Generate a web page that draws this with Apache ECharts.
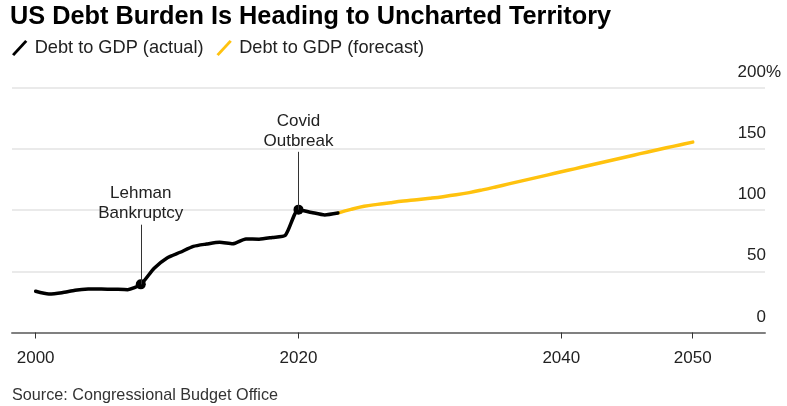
<!DOCTYPE html>
<html>
<head>
<meta charset="utf-8">
<script src="https://cdn.jsdelivr.net/npm/echarts@6/dist/echarts.min.js"></script>
<style>
html,body{margin:0;padding:0;background:#fff;}
#chart{width:787px;height:406px;}
</style>
</head>
<body>
<div id="chart"></div>
<script>
// ---- data ----
const actualYears = [2000,2001,2002,2003,2004,2005,2006,2007,2008,2009,2010,2011,2012,2013,2014,2015,2016,2017,2018,2019,2020,2021,2022,2023];
const actualValues = [33.7,31.5,32.5,34.5,35.5,35.6,35.3,35.0,39.3,52.3,60.9,65.5,70.3,72.2,73.7,72.5,76.4,76.2,77.6,79.4,100.3,98.0,96.0,97.5];
const forecastYears = [2023,2024,2025,2026,2027,2028,2029,2030,2031,2032,2033,2034,2035,2036,2037,2038,2039,2040,2041,2042,2043,2044,2045,2046,2047,2048,2049,2050];
const forecastValues = [97.5,100.5,103,104.6,106,107.3,108.4,109.6,110.9,112.4,114.2,116.4,118.8,121.3,123.8,126.2,128.7,131.2,133.6,136.1,138.6,141,143.5,146,148.4,150.8,153.1,155.4];
const xTickLabels = [2000,2020,2040,2050];
const yTickLabels = [0,50,100,150,200];
const eventNames = ['Lehman\nBankruptcy','Covid\nOutbreak'];
const eventYears = [2008,2020];
const eventValues = [39.3,100.3];
const seriesNames = ['Debt to GDP (actual)','Debt to GDP (forecast)'];
const titleText = 'US Debt Burden Is Heading to Uncharted Territory';
const sourceText = 'Source: Congressional Budget Office';

// ---- chart ----
const FONT = '"Liberation Sans", Arial, Helvetica, sans-serif';
const BLACK = '#000000';
const YELLOW = '#ffc20e';
const leaderEnds = [88, 147.5];

const zip = (xs, ys) => xs.map((x, i) => [x, ys[i]]);
const iconPath = 'path://M0,13 L12,0 L14,1.6 L2,14.6 Z';

const chart = echarts.init(document.getElementById('chart'));
chart.setOption({
  animation: false,
  backgroundColor: '#ffffff',
  textStyle: { fontFamily: FONT },
  title: [
    { text: titleText, left: 10, top: 5, padding: 0, textStyle: { fontFamily: FONT, fontSize: 25.3, fontWeight: 'bold', color: '#000' } },
    { text: sourceText, left: 12, top: 388, padding: 0, textStyle: { fontFamily: FONT, fontSize: 16.2, fontWeight: 'normal', color: '#333' } }
  ],
  legend: {
    data: seriesNames.map((n, i) => ({ name: n, icon: iconPath, itemStyle: { color: i === 0 ? BLACK : YELLOW } })),
    left: 12, top: 39, padding: 0,
    itemWidth: 16, itemHeight: 16, itemGap: 13,
    textStyle: { fontFamily: FONT, fontSize: 18.2, color: '#222', padding: [0, 0, 0, 2] }
  },
  grid: { left: 12, right: 22, top: 87.5, bottom: 73.5, containLabel: false, outerBoundsMode: 'none' },
  xAxis: {
    type: 'value',
    min: 1998.2, max: 2055.5,
    axisLine: { show: true, lineStyle: { color: '#808080', width: 2 } },
    axisTick: { show: true, customValues: xTickLabels, length: 6, lineStyle: { color: '#333', width: 1 } },
    axisLabel: { customValues: xTickLabels, margin: 17, fontSize: 17, color: '#222', fontFamily: FONT, formatter: v => String(v) },
    splitLine: { show: false }
  },
  yAxis: {
    type: 'value',
    position: 'right',
    min: 0, max: 200, interval: 50,
    axisLine: { show: false },
    axisTick: { show: false },
    splitLine: { show: true, lineStyle: { color: '#e3e3e3', width: 1.5 } },
    axisLabel: {
      inside: true, margin: 32, align: 'left', verticalAlign: 'bottom',
      padding: [0, 0, 7, 0],
      fontSize: 17, color: '#222', fontFamily: FONT,
      formatter: v => yTickLabels.indexOf(v) < 0 ? '' : (v === 200 ? '{m|' + v + '%}' : '{n|' + v + '}'),
      rich: {
        n: { width: 33, align: 'right', fontSize: 17, color: '#222', fontFamily: FONT },
        m: { width: 48, align: 'right', fontSize: 17, color: '#222', fontFamily: FONT }
      }
    }
  },
  series: [
    {
      name: seriesNames[0], type: 'line', data: zip(actualYears, actualValues),
      symbol: 'none', smooth: 0.22,
      lineStyle: { color: BLACK, width: 3.5, cap: 'round', join: 'round' },
      itemStyle: { color: BLACK }, z: 3,
      markLine: {
        silent: true, symbol: 'none', animation: false,
        lineStyle: { color: '#333', width: 1, type: 'solid' },
        label: { show: true, position: 'end', distance: 1, formatter: p => p.name, fontSize: 17, lineHeight: 20, color: '#222', fontFamily: FONT },
        emphasis: { disabled: true },
        data: eventYears.map((y, i) => [
          { name: eventNames[i], coord: [y, eventValues[i]] },
          { coord: [y, leaderEnds[i]] }
        ])
      }
    },
    {
      name: seriesNames[1], type: 'line', data: zip(forecastYears, forecastValues),
      symbol: 'none', smooth: 0.4,
      lineStyle: { color: YELLOW, width: 3.5, cap: 'round', join: 'round' },
      itemStyle: { color: YELLOW }, z: 2
    },
    {
      name: 'events', type: 'scatter', data: zip(eventYears, eventValues),
      symbol: 'circle', symbolSize: 10, itemStyle: { color: BLACK, opacity: 1 }, z: 4, silent: true
    }
  ]
});
</script>
</body>
</html>
